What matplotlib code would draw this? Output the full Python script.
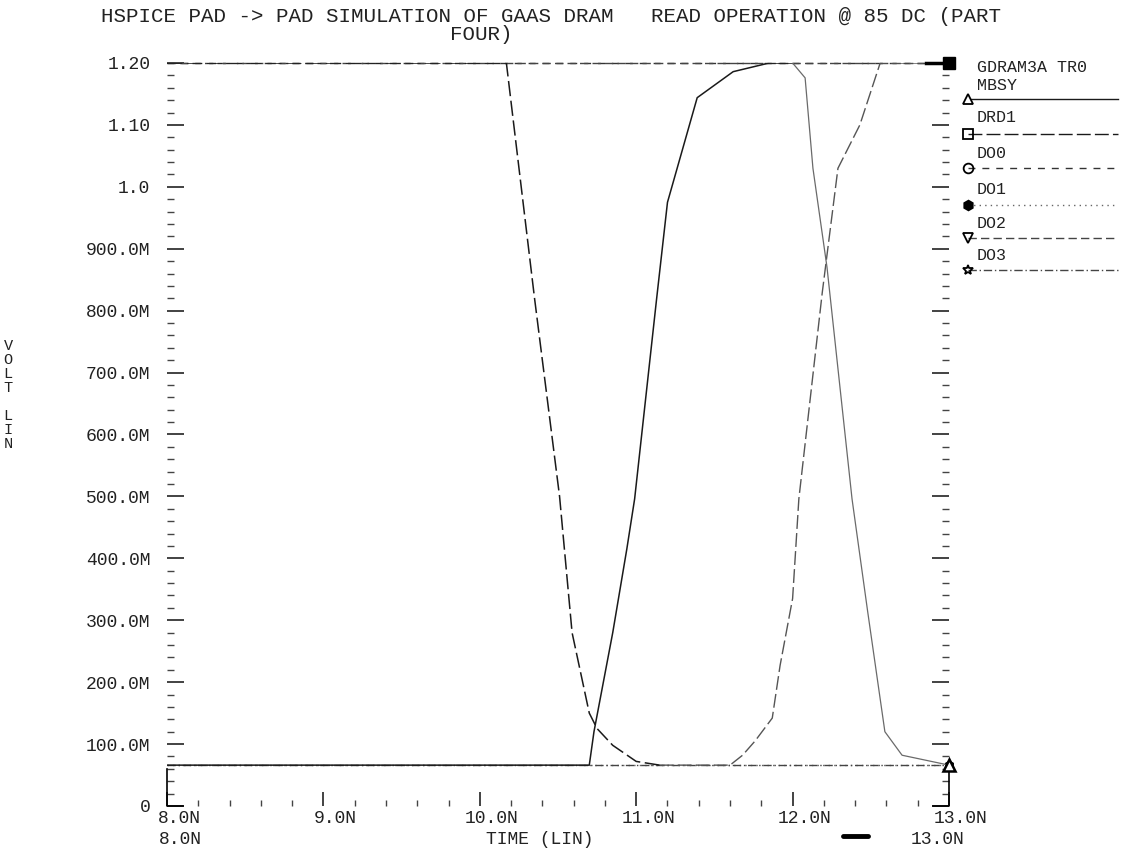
import matplotlib.pyplot as plt
from matplotlib.lines import Line2D
from matplotlib.ticker import MultipleLocator
from matplotlib.transforms import ScaledTranslation

plt.rcParams['font.family'] = ['Liberation Mono', 'DejaVu Sans Mono']

# traces (time in ns, volts)
mbsy_t = [8.0, 10.70, 10.73, 10.85, 10.94, 10.99, 11.13, 11.20, 11.39, 11.62, 11.85,
          12.00, 12.08, 12.13, 12.22, 12.38, 12.48, 12.59, 12.70, 13.0]
mbsy_v = [0.066, 0.066, 0.12, 0.28, 0.415, 0.496, 0.818, 0.975, 1.144, 1.186, 1.2,
          1.2, 1.176, 1.03, 0.87, 0.496, 0.314, 0.12, 0.082, 0.066]

ord1_t = [8.0, 10.17, 10.35, 10.51, 10.59, 10.70, 10.75, 10.85, 11.0, 11.15, 11.60,
          11.68, 11.76, 11.87, 11.92, 12.0, 12.04, 12.19, 12.29, 12.43, 12.56, 13.0]
ord1_v = [1.2, 1.2, 0.82, 0.5, 0.28, 0.15, 0.125, 0.098, 0.072, 0.066, 0.066,
          0.082, 0.105, 0.142, 0.227, 0.335, 0.496, 0.83, 1.03, 1.10, 1.2, 1.2]

do0_t = [8.0, 13.0]
do0_v = [1.2, 1.2]
do1_t = [8.0, 13.0]
do1_v = [0.066, 0.066]
do2_t = [8.0, 13.0]
do2_v = [1.2, 1.2]
do3_t = [8.0, 13.0]
do3_v = [0.066, 0.066]

names = ["MBSY", "DRD1", "DO0", "DO1", "DO2", "DO3"]
styles = ["-", (0, (10, 3)), (0, (5, 5)), (0, (1, 3)), (0, (6, 3)), (0, (6, 2, 1, 2))]
marks = ["^", "s", "o", "h", "v", "*"]
fills = ["white", "none", "none", "k", "none", "none"]
colors = ["#1a1a1a", "#1a1a1a", "#333333", "#666666", "#444444", "#444444"]

yticks = [0, 0.1, 0.2, 0.3, 0.4, 0.5, 0.6, 0.7, 0.8, 0.9, 1.0, 1.1, 1.2]
ylabels = ["0", "100.0M", "200.0M", "300.0M", "400.0M", "500.0M", "600.0M",
           "700.0M", "800.0M", "900.0M", "1.0", "1.10", "1.20"]
xticks = [8, 9, 10, 11, 12, 13]
xlabels = ["8.0N", "9.0N", "10.0N", "11.0N", "12.0N", "13.0N"]

W, H = 1128, 848
ink = "#222222"
fs = 13
fig = plt.figure(figsize=(W / 100, H / 100), dpi=100)
ax = fig.add_axes([167 / W, 1 - 806 / H, (949 - 167) / W, (806 - 63) / H])


def px(x, y):
    return x / W, 1 - y / H


# flat traces first, the switching ones on top
flat = [(do0_t, do0_v, 2), (do1_t, do1_v, 3), (do2_t, do2_v, 4), (do3_t, do3_v, 5)]
for t, v, i in flat:
    ax.plot(t, v, ls=styles[i], color=colors[i], lw=1.0, marker=marks[i],
            markevery=[-1], ms=6, mfc=fills[i], mec="k", mew=1.2, clip_on=False, zorder=2)

# DRD1: dark while falling, lighter on the later rise
k = ord1_t.index(11.15)
ax.plot(ord1_t[:k + 1], ord1_v[:k + 1], ls=styles[1], color="#1a1a1a", lw=1.1, zorder=3)
ax.plot(ord1_t[k:], ord1_v[k:], ls=styles[1], color="#555555", lw=1.0, zorder=3)

# MBSY: dark rise, fainter fall
k = mbsy_t.index(12.00)
ax.plot(mbsy_t[:k + 1], mbsy_v[:k + 1], ls="-", color="#1a1a1a", lw=1.1, zorder=4)
ax.plot(mbsy_t[k:], mbsy_v[k:], ls="-", color="#6a6a6a", lw=0.9, zorder=4)
ax.plot(mbsy_t[-1:], mbsy_v[-1:], ls="none", marker="^", ms=8, mfc="white",
        mec="k", mew=1.8, clip_on=False, zorder=6)

# the thick marker block at the top right end
ax.plot([12.85, 13.0], [1.2, 1.2], color="k", lw=2.5, clip_on=False, zorder=5)
ax.plot([13.0], [1.2], marker="s", ms=9, color="k", clip_on=False, zorder=6)

ax.set_xlim(8, 13)
ax.set_ylim(0, 1.2)
for s in ax.spines.values():
    s.set_visible(False)

ax.set_yticks(yticks)
ax.set_yticklabels(ylabels)
ax.set_xticks(xticks)
ax.set_xticklabels(xlabels)
ax.yaxis.set_minor_locator(MultipleLocator(0.02))
ax.xaxis.set_minor_locator(MultipleLocator(0.2))
ax.tick_params(axis="y", which="major", direction="in", length=12, width=1.2,
               labelsize=fs, pad=12, right=True, colors=ink)
ax.tick_params(axis="y", which="minor", direction="in", length=5, width=1.0,
               right=True, colors="#444444")
ax.tick_params(axis="x", which="major", direction="in", length=10, width=1.2,
               labelsize=fs, pad=3, colors=ink)
ax.tick_params(axis="x", which="minor", direction="in", length=4, width=1.0,
               colors="#444444")
shift = ScaledTranslation(12 / 100, 0, fig.dpi_scale_trans)
for lab in ax.get_xticklabels():
    lab.set_transform(lab.get_transform() + shift)

# corner brackets
ax.plot([8.0, 8.0, 8.1], [0.06, 0.0, 0.0], color="k", lw=1.2, clip_on=False)
ax.plot([12.9, 13.0, 13.0], [0.0, 0.0, 0.06], color="k", lw=1.2, clip_on=False)

# title
fig.text(*px(551, 16), "HSPICE PAD -> PAD SIMULATION OF GAAS DRAM   READ OPERATION @ 85 DC (PART",
         ha="center", va="center", fontsize=15, color=ink)
fig.text(*px(481, 34), "FOUR)", ha="center", va="center", fontsize=15, color=ink)

# vertical axis caption
fig.text(*px(8, 395), "V\nO\nL\nT\n\nL\nI\nN", ha="center", va="center",
         fontsize=11, linespacing=1.0, color=ink)

# second row under the time axis
fig.text(*px(180, 839), "8.0N", ha="center", va="center", fontsize=fs, color=ink)
fig.text(*px(540, 839), "TIME (LIN)", ha="center", va="center", fontsize=fs, color=ink)
fig.text(*px(938, 839), "13.0N", ha="center", va="center", fontsize=fs, color=ink)
fig.add_artist(Line2D([843 / W, 868 / W], [1 - 836 / H] * 2, color="k", lw=3.5,
                      solid_capstyle="round", transform=fig.transFigure))

# legend at the right
fig.text(*px(977, 67), "GDRAM3A TR0", ha="left", va="center", fontsize=12, color=ink)
row_text = [85, 118, 153, 190, 223, 256]
row_line = [99, 134, 168, 205, 238, 270]
for name, ls, mk, fc, c, yt, yl in zip(names, styles, marks, fills, colors, row_text, row_line):
    fig.text(*px(977, yt), name, ha="left", va="center", fontsize=12, color=ink)
    x0, y0 = px(968, yl)
    x1, _ = px(1118, yl)
    fig.add_artist(Line2D([x0, x1], [y0, y0], ls=ls, color=c, lw=1.0,
                          transform=fig.transFigure))
    fig.add_artist(Line2D([x0], [y0], marker=mk, ms=7, mfc=fc, mec="k", mew=1.3,
                          transform=fig.transFigure))

fig.savefig("out.png", dpi=100)
